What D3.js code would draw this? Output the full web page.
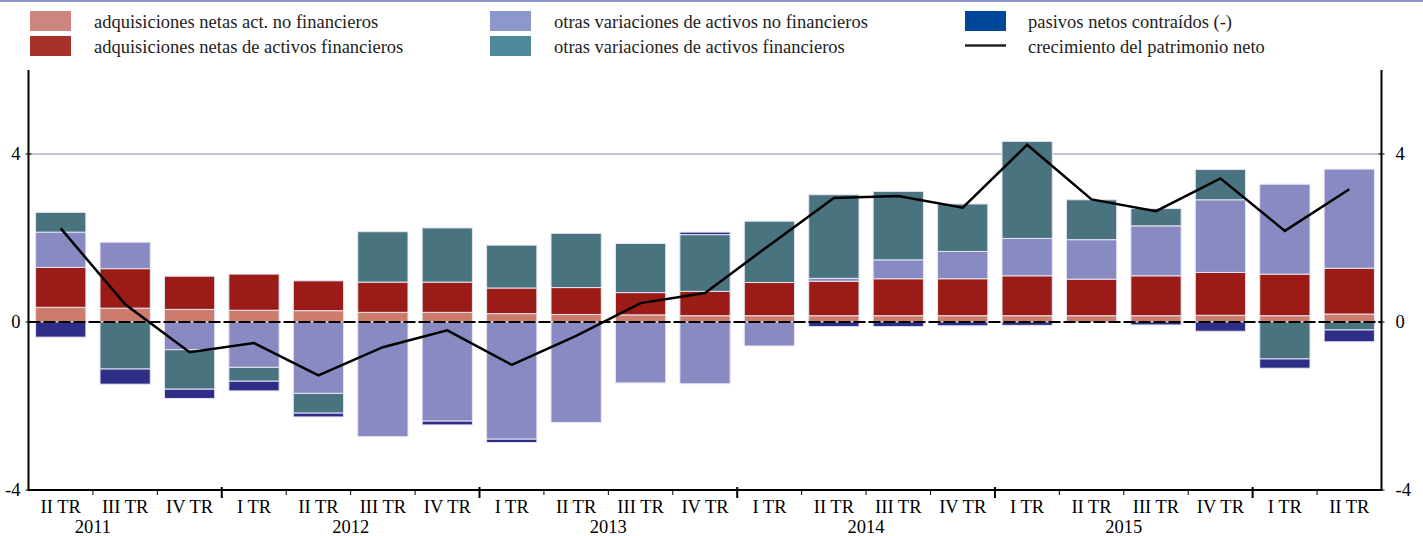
<!DOCTYPE html>
<html>
<head>
<meta charset="utf-8">
<script src="https://cdn.jsdelivr.net/npm/d3@7"></script>
<style>
  body { margin: 0; background: #fff; }
  svg { display: block; font-family: "Liberation Serif", "Times New Roman", serif; }
</style>
</head>
<body>
<script>
var quarters = ["II TR", "III TR", "IV TR",
                "I TR", "II TR", "III TR", "IV TR",
                "I TR", "II TR", "III TR", "IV TR",
                "I TR", "II TR", "III TR", "IV TR",
                "I TR", "II TR", "III TR", "IV TR",
                "I TR", "II TR"];
var years = ["2011", "2012", "2013", "2014", "2015"];
var yTicks = [-4, 0, 4];

var adqNoFin   = [0.35, 0.33, 0.30, 0.28, 0.27, 0.23, 0.23, 0.20, 0.18, 0.17, 0.15, 0.15, 0.15, 0.15, 0.15, 0.15, 0.15, 0.15, 0.16, 0.15, 0.19];
var adqFin     = [0.95, 0.94, 0.79, 0.86, 0.71, 0.72, 0.72, 0.61, 0.64, 0.53, 0.58, 0.79, 0.82, 0.88, 0.88, 0.95, 0.87, 0.95, 1.02, 0.99, 1.09];
var otrasNoFin = [0.84, 0.63, -0.66, -1.08, -1.70, -2.73, -2.36, -2.79, -2.39, -1.45, -1.47, -0.57, 0.07, 0.45, 0.65, 0.89, 0.94, 1.19, 1.73, 2.14, 2.36];
var otrasFin   = [0.47, -1.12, -0.94, -0.33, -0.47, 1.20, 1.29, 1.02, 1.29, 1.17, 1.35, 1.46, 1.99, 1.63, 1.13, 2.31, 0.95, 0.41, 0.72, -0.88, -0.19];
var pasivos    = [-0.36, -0.36, -0.22, -0.23, -0.09, 0, -0.09, -0.08, 0, 0, 0.06, 0, -0.11, -0.11, -0.09, -0.08, 0, -0.07, -0.22, -0.22, -0.28];
var patrimonio = [2.23, 0.42, -0.72, -0.50, -1.27, -0.60, -0.20, -1.02, -0.33, 0.45, 0.69, 1.83, 2.95, 3.00, 2.72, 4.22, 2.92, 2.64, 3.42, 2.17, 3.16];

var series = [
  { key: "adqNoFin",   name: "adquisiciones netas act. no financieros",  values: adqNoFin,   color: "#cd7b6b", legend: "#cd857f" },
  { key: "adqFin",     name: "adquisiciones netas de activos financieros", values: adqFin,   color: "#9b1c17", legend: "#a8322b" },
  { key: "otrasNoFin", name: "otras variaciones de activos no financieros", values: otrasNoFin, color: "#8a8ac2", legend: "#8c97cc" },
  { key: "otrasFin",   name: "otras variaciones de activos financieros",  values: otrasFin,   color: "#4a7380", legend: "#4e8a99" },
  { key: "pasivos",    name: "pasivos netos contraídos (-)",              values: pasivos,    color: "#2e2d87", legend: "#00479a" }
];

var width = 1423, height = 536;
var plotLeft = 28.5, plotRight = 1381.5, plotTop = 70, plotBottom = 490;
var fontSize = 18.5;

var svg = d3.select("body").append("svg")
    .attr("width", width)
    .attr("height", height);

// top border line
svg.append("line")
    .attr("x1", 0).attr("x2", width).attr("y1", 1).attr("y2", 1)
    .attr("stroke", "#8c97cc").attr("stroke-width", 2);

var x = d3.scaleBand()
    .domain(d3.range(quarters.length))
    .range([plotLeft, plotRight])
    .paddingInner(0.22)
    .paddingOuter(0.11);

var y = d3.scaleLinear()
    .domain([-4, 6])
    .range([plotBottom, plotTop]);

// gridline at 4
svg.append("line")
    .attr("x1", plotLeft).attr("x2", plotRight)
    .attr("y1", y(4)).attr("y2", y(4))
    .attr("stroke", "#8a8ac2").attr("stroke-width", 1);

// stacked bars
var rows = quarters.map(function(q, i) {
  var r = { i: i };
  series.forEach(function(s) { r[s.key] = s.values[i]; });
  return r;
});

var stack = d3.stack()
    .keys(series.map(function(s) { return s.key; }))
    .offset(d3.stackOffsetDiverging);

var layers = stack(rows);

svg.append("g").selectAll("g")
    .data(layers)
  .enter().append("g")
    .attr("fill", function(d, k) { return series[k].color; })
  .selectAll("rect")
    .data(function(d) { return d.filter(function(p) { return p[1] !== p[0]; }); })
  .enter().append("rect")
    .attr("x", function(d) { return x(d.data.i); })
    .attr("width", x.bandwidth())
    .attr("y", function(d) { return y(Math.max(d[0], d[1])); })
    .attr("height", function(d) { return Math.abs(y(d[0]) - y(d[1])); })
    .attr("stroke", "#e4e4f2")
    .attr("stroke-width", 1);

// zero line
svg.append("line")
    .attr("x1", plotLeft).attr("x2", plotRight)
    .attr("y1", y(0)).attr("y2", y(0))
    .attr("stroke", "#000").attr("stroke-width", 2)
    .attr("stroke-dasharray", "12,3");

// net worth line
var line = d3.line()
    .x(function(d, i) { return x(i) + x.bandwidth() / 2; })
    .y(function(d) { return y(d); });

svg.append("path")
    .datum(patrimonio)
    .attr("d", line)
    .attr("fill", "none")
    .attr("stroke", "#000")
    .attr("stroke-width", 2.5);

// axes frame
var frame = svg.append("g").attr("stroke", "#000").attr("stroke-width", 2);
frame.append("line").attr("x1", plotLeft).attr("x2", plotLeft).attr("y1", plotTop).attr("y2", plotBottom + 1);
frame.append("line").attr("x1", plotRight).attr("x2", plotRight).attr("y1", plotTop).attr("y2", plotBottom + 1);
frame.append("line").attr("x1", plotLeft).attr("x2", plotRight).attr("y1", plotBottom).attr("y2", plotBottom);

// y tick labels, both sides
yTicks.forEach(function(t) {
  frame.append("line").attr("x1", plotLeft - 3).attr("x2", plotLeft + 3).attr("y1", y(t)).attr("y2", y(t)).attr("stroke-width", 1);
  frame.append("line").attr("x1", plotRight - 3).attr("x2", plotRight + 3).attr("y1", y(t)).attr("y2", y(t)).attr("stroke-width", 1);
  svg.append("text")
      .attr("x", plotLeft - 8).attr("y", y(t) + 6)
      .attr("text-anchor", "end")
      .attr("font-size", fontSize)
      .text(t);
  svg.append("text")
      .attr("x", plotRight + 14).attr("y", y(t) + 6)
      .attr("font-size", fontSize)
      .text(t);
});

// x ticks: small between quarters, long at year boundaries
var step = x.step();
d3.range(1, quarters.length).forEach(function(i) {
  var tx = plotLeft + i * step;
  var yearEdge = quarters[i] === "I TR";
  svg.append("line")
      .attr("x1", tx).attr("x2", tx)
      .attr("y1", yearEdge ? plotBottom - 3 : plotBottom)
      .attr("y2", yearEdge ? plotBottom + 8 : plotBottom + 5)
      .attr("stroke", "#000").attr("stroke-width", yearEdge ? 2 : 1);
});

svg.append("g").selectAll("text")
    .data(quarters)
  .enter().append("text")
    .attr("x", function(d, i) { return x(i) + x.bandwidth() / 2; })
    .attr("y", 513)
    .attr("text-anchor", "middle")
    .attr("font-size", fontSize)
    .text(function(d) { return d; });

// year labels centred over their four quarters (first year starts at II TR)
svg.append("g").selectAll("text")
    .data(years)
  .enter().append("text")
    .attr("x", function(d, k) {
      var first = k * 4 - 1;
      return plotLeft + step * (first + 2);
    })
    .attr("y", 533)
    .attr("text-anchor", "middle")
    .attr("font-size", fontSize)
    .text(function(d) { return d; });

// legend
var legendPos = [
  { x: 30, y: 11 }, { x: 30, y: 36 },
  { x: 490, y: 11 }, { x: 490, y: 36 },
  { x: 965, y: 11 }
];
var textOffset = [64, 64, 64, 64, 63];

series.forEach(function(s, k) {
  var p = legendPos[k];
  svg.append("rect")
      .attr("x", p.x).attr("y", p.y)
      .attr("width", 41).attr("height", 20)
      .attr("fill", s.legend);
  svg.append("text")
      .attr("x", p.x + textOffset[k]).attr("y", p.y + 17)
      .attr("font-size", fontSize)
      .attr("fill", "#222")
      .text(s.name);
});

svg.append("line")
    .attr("x1", 965).attr("x2", 1006)
    .attr("y1", 45.5).attr("y2", 45.5)
    .attr("stroke", "#222").attr("stroke-width", 2.5);
svg.append("text")
    .attr("x", 1028).attr("y", 53)
    .attr("font-size", fontSize)
    .attr("fill", "#222")
    .text("crecimiento del patrimonio neto");
</script>
</body>
</html>
